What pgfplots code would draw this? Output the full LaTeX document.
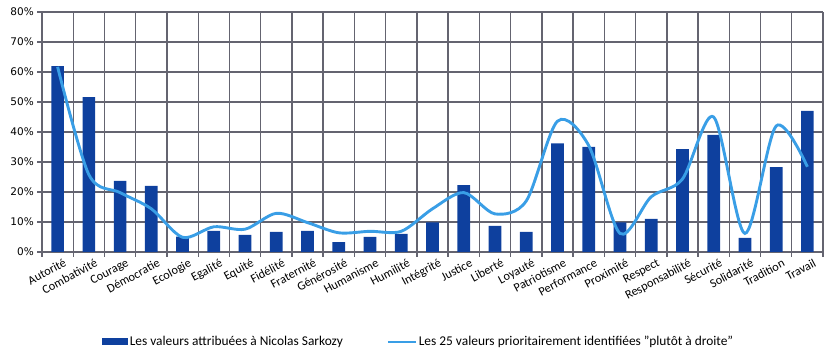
\documentclass[border=0pt]{standalone}
\usepackage{fontspec}
\setmainfont{Carlito}
\newfontfamily\dejavu{DejaVu Sans}
\usepackage{pgfplots}
\pgfplotsset{compat=1.18}
\definecolor{barblue}{RGB}{14,64,158}
\definecolor{lineblue}{RGB}{57,158,230}
\definecolor{gridtint}{RGB}{100,100,112}
\begin{document}
\begin{tikzpicture}
\begin{axis}[
  at={(42pt,103pt)}, anchor=south west,
  width=781pt, height=240pt, scale only axis,
  xmin=-0.5, xmax=24.5, ymin=0, ymax=80,
  xtick={0,...,24},
  xticklabels={Autorité,Combativité,Courage,Démocratie,Ecologie,Egalité,Equité,Fidélité,Fraternité,Générosité,Humanisme,Humilité,Intégrité,Justice,Liberté,Loyauté,Patriotisme,Performance,Proximité,Respect,Responsabilité,Sécurité,Solidarité,Tradition,Travail},
  xticklabel style={font=\fontsize{12.3}{13}\selectfont, rotate=28, anchor=north east, inner sep=1pt, yshift=-7pt, xshift=3pt},
  ytick={0,10,...,80},
  yticklabel={\pgfmathprintnumber[assume math mode=true]{\tick}\%},
  yticklabel style={font=\dejavu\fontsize{10.5}{11}\selectfont, inner sep=0pt, xshift=-8pt},
  major tick length=0pt,
  axis line style={draw=none},
  legend columns=2,
  legend style={at={(0.482,-0.375)}, anchor=center, draw=none, fill=none,
    font=\fontsize{13.4}{14}\selectfont,
    /tikz/every even column/.append style={column sep=42pt},
    nodes={inner sep=1.5pt}},
  clip=false,
]
\pgfplotsinvokeforeach{0,10,20,30,40,50,60,70,80}{
  \draw[gridtint, line width=1.4pt] (axis cs:-0.5,#1) -- (axis cs:24.5,#1);
  \draw[gridtint, line width=1.4pt] (axis cs:-0.5,#1) -- ++(-5pt,0pt);
}
\pgfplotsinvokeforeach{-0.5,0.5,1.5,2.5,3.5,4.5,5.5,6.5,7.5,8.5,9.5,10.5,11.5,12.5,13.5,14.5,15.5,16.5,17.5,18.5,19.5,20.5,21.5,22.5,23.5,24.5}{
  \draw[gridtint, line width=1.4pt] (axis cs:#1,80) -- (axis cs:#1,0) -- ++(0pt,-5pt);
}
\addplot[fill=barblue, draw=none, ybar, bar width=12.7pt,
  legend image code/.code={\fill[barblue] (0pt,-3.5pt) rectangle (26pt,3.5pt);}]
coordinates {
(0,62.0) (1,51.6) (2,23.7) (3,22.0) (4,5.1) (5,7.0) (6,5.7) (7,6.7) (8,7.0)
(9,3.3) (10,5.0) (11,6.0) (12,9.9) (13,22.3) (14,8.7) (15,6.7) (16,36.2)
(17,35.0) (18,9.9) (19,11.0) (20,34.3) (21,39.0) (22,4.7) (23,28.3) (24,47.0)
};
\addlegendentry{Les valeurs attribuées à Nicolas Sarkozy}
\addplot[lineblue, line width=2.9pt, smooth, no marks,
  legend image code/.code={\draw[lineblue, line width=2.9pt] (0pt,0pt) -- (28pt,0pt);}]
coordinates {
(0,61.7) (1,25.8) (2,19.8) (3,14.4) (4,4.9) (5,8.4) (6,7.6) (7,12.9) (8,9.8)
(9,6.4) (10,6.9) (11,6.9) (12,14.4) (13,19.8) (14,12.7) (15,17.0) (16,43.6)
(17,35.5) (18,6.2) (19,18.4) (20,24.3) (21,45.0) (22,6.2) (23,42.0) (24,28.4)
};
\addlegendentry{Les 25 valeurs prioritairement identifiées "plutôt à droite"}
\end{axis}
\pgfresetboundingbox
\path[use as bounding box] (0,0) rectangle (829pt,355pt);
\end{tikzpicture}
\end{document}
